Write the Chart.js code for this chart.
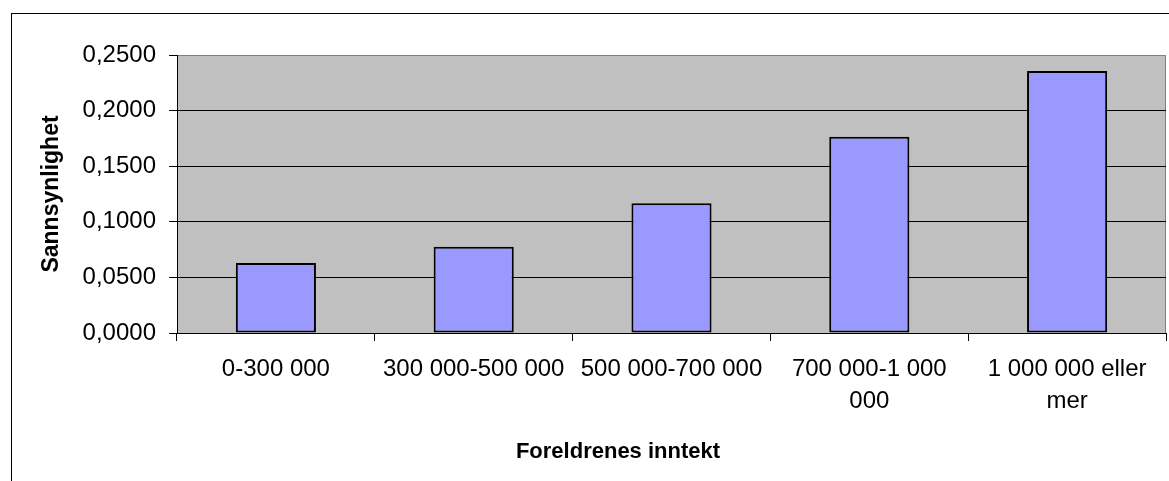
<!DOCTYPE html>
<html>
<head>
<meta charset="utf-8">
<script src="https://cdn.jsdelivr.net/npm/chart.js@4/dist/chart.umd.min.js"></script>
<style>
  html, body { margin: 0; padding: 0; background: #fff; overflow: hidden; }
  #wrap { position: relative; width: 1169px; height: 481px; overflow: hidden; }
  #frame { position: absolute; left: 11px; top: 13px; width: 1400px; height: 700px; border: 1px solid #000; }
  #bar-chart { position: absolute; left: 0; top: 0; }
</style>
</head>
<body>
<div id="wrap">
  <div id="frame"></div>
  <canvas id="bar-chart" width="1169" height="481"></canvas>
</div>
<script>
var incomeLabels = [
  ["0-300 000"],
  ["300 000-500 000"],
  ["500 000-700 000"],
  ["700 000-1 000", "000"],
  ["1 000 000 eller", "mer"]
]
var probValues = [0.0629, 0.0776, 0.1166, 0.1765, 0.2356]
var yTicks = [0, 0.05, 0.1, 0.15, 0.2, 0.25]
var xTitle = "Foreldrenes inntekt"
var yTitle = "Sannsynlighet"

var fontName = "'Liberation Sans', Arial, sans-serif"

// grey plot background + grey frame, axis titles
var plotBg = {
  id: "plotBg",
  beforeDraw: function(chart){
    var a = chart.chartArea
    var ctx = chart.ctx
    ctx.save()
    ctx.fillStyle = "#C0C0C0"
    ctx.fillRect(a.left, a.top, a.right - a.left, a.bottom - a.top)
    ctx.strokeStyle = "#808080"
    ctx.lineWidth = 1
    ctx.strokeRect(a.left + 0.5, a.top + 0.5, a.right - a.left - 1, a.bottom - a.top)
    ctx.restore()
  },
  afterDraw: function(chart){
    var ctx = chart.ctx
    var a = chart.chartArea
    ctx.save()
    ctx.fillStyle = "#000"
    ctx.textAlign = "center"
    ctx.textBaseline = "middle"
    ctx.font = "bold 22px " + fontName
    ctx.fillText(xTitle, 618, 452)
    ctx.font = "bold 23px " + fontName
    ctx.translate(52, (a.top + a.bottom) / 2)
    ctx.rotate(-Math.PI / 2)
    ctx.fillText(yTitle, 0, 0)
    ctx.restore()
  }
}

var myChart = new Chart(document.getElementById("bar-chart"), {
  type: "bar",
  data: {
    labels: incomeLabels,
    datasets: [{
      data: probValues,
      backgroundColor: "#9999FF",
      borderColor: "#000",
      borderWidth: 2,
      borderSkipped: false,
      categoryPercentage: 1,
      barPercentage: 0.405
    }]
  },
  options: {
    responsive: false,
    animation: false,
    layout: { padding: { left: 0, top: 55, right: 3, bottom: 0 } },
    plugins: {
      legend: { display: false },
      tooltip: { enabled: false },
      title: { display: false }
    },
    scales: {
      x: {
        grid: { drawOnChartArea: false, drawTicks: true, tickLength: 8, color: "#000", offset: true },
        border: { color: "#000", width: 1 },
        ticks: {
          color: "#000",
          font: { family: fontName, size: 24, lineHeight: 1.34 },
          padding: 12,
          maxRotation: 0,
          autoSkip: false
        },
        afterFit: function(scale){ scale.height = 148 }
      },
      y: {
        min: 0,
        max: 0.25,
        afterBuildTicks: function(scale){
          scale.ticks = yTicks.map(function(v){ return { value: v } })
        },
        grid: {
          color: function(c){ return c.tick && c.tick.value == 0.25 ? "#808080" : "#000" },
          tickLength: 8,
          tickColor: "#000"
        },
        border: { color: "#000", width: 1 },
        ticks: {
          color: "#000",
          font: { family: fontName, size: 24 },
          padding: 13,
          callback: function(v){ return v.toFixed(4).replace(".", ",") }
        },
        afterFit: function(scale){ scale.width = 177 }
      }
    }
  },
  plugins: [plotBg]
});
</script>
</body>
</html>
